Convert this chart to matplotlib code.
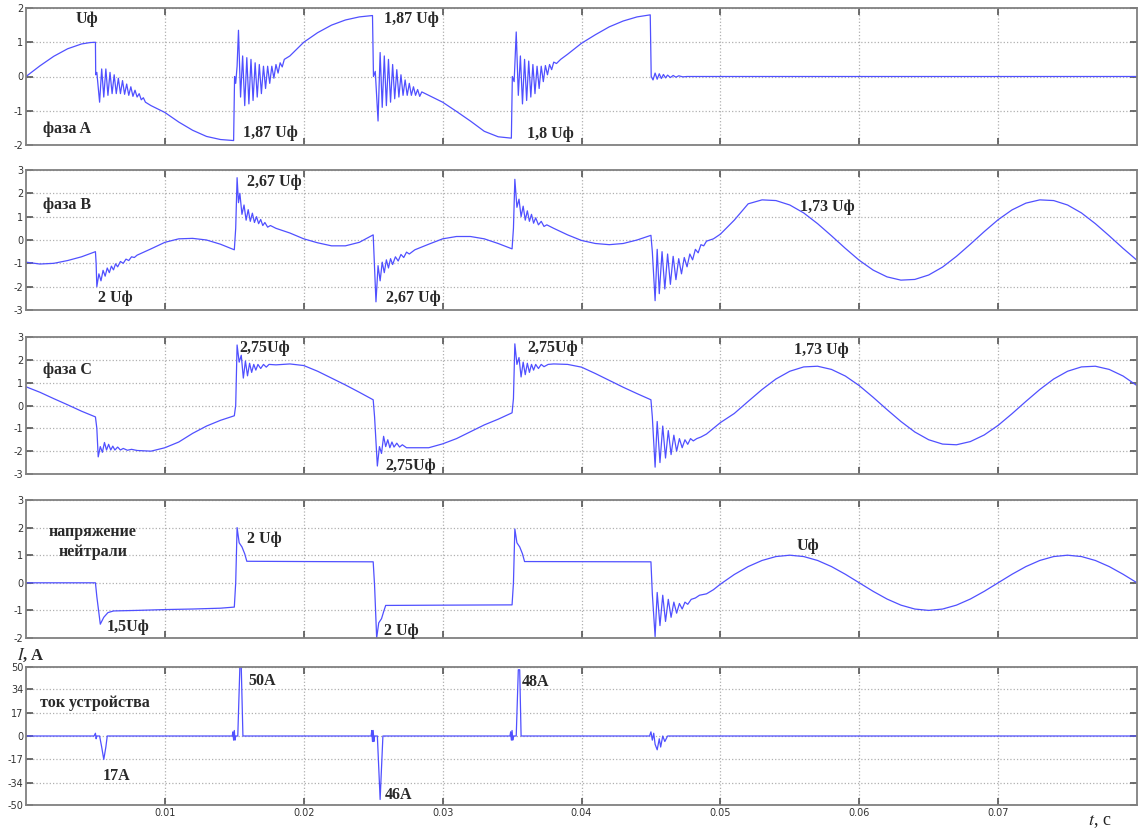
import matplotlib
matplotlib.use("Agg")
import matplotlib.pyplot as plt

plt.rcParams['axes.unicode_minus'] = False
plt.rcParams['mathtext.fontset'] = 'stix'

# time in ms, value in per-unit of phase voltage
phase_a = [
    (0, 0), (1, 0.31), (2, 0.59), (3, 0.81), (4, 0.95), (4.6, 0.99), (5.0, 1.0),
    (5.02, 0.05), (5.1, 0.12), (5.15, -0.1), (5.3, -0.75), (5.45, 0.22), (5.6, -0.6),
    (5.75, 0.22), (5.9, -0.55), (6.05, 0.12), (6.2, -0.5), (6.35, 0.05), (6.5, -0.5),
    (6.65, -0.05), (6.8, -0.5), (6.95, -0.12), (7.1, -0.52), (7.25, -0.22), (7.4, -0.55),
    (7.55, -0.3), (7.7, -0.58), (7.85, -0.4), (8.0, -0.6), (8.15, -0.5), (8.3, -0.68),
    (8.45, -0.62), (8.6, -0.75), (9, -0.85), (10, -1.05), (11, -1.33), (12, -1.57),
    (13, -1.75), (14, -1.84), (14.95, -1.87),
    (15.02, 0.0), (15.1, -0.2), (15.2, 0.3), (15.3, 1.35), (15.45, -0.6), (15.6, 0.6),
    (15.75, -0.85), (15.9, 0.55), (16.05, -0.8), (16.2, 0.5), (16.35, -0.7), (16.5, 0.4),
    (16.65, -0.6), (16.8, 0.35), (16.95, -0.5), (17.1, 0.3), (17.25, -0.35), (17.4, 0.3),
    (17.55, -0.2), (17.7, 0.3), (17.85, -0.05), (18.0, 0.35), (18.15, 0.1), (18.3, 0.4),
    (18.45, 0.28), (18.6, 0.5), (19, 0.6), (20, 1.0), (21, 1.28), (22, 1.5), (23, 1.65),
    (24, 1.74), (24.95, 1.78),
    (25.02, 0.0), (25.15, 0.15), (25.35, -1.3), (25.5, 0.7), (25.65, -0.9), (25.8, 0.6),
    (25.95, -0.85), (26.1, 0.5), (26.25, -0.75), (26.4, 0.35), (26.55, -0.65), (26.7, 0.2),
    (26.85, -0.6), (27.0, 0.05), (27.15, -0.55), (27.3, -0.1), (27.45, -0.55), (27.6, -0.2),
    (27.75, -0.55), (27.9, -0.3), (28.05, -0.55), (28.2, -0.38), (28.35, -0.58), (28.5, -0.45),
    (29, -0.55), (30, -0.75), (31, -1.02), (32, -1.3), (33, -1.6), (34, -1.76), (34.95, -1.8),
    (35.02, 0.0), (35.15, -0.15), (35.3, 1.3), (35.45, -0.55), (35.6, 0.6), (35.75, -0.8),
    (35.9, 0.5), (36.05, -0.7), (36.2, 0.45), (36.35, -0.6), (36.5, 0.35), (36.65, -0.5),
    (36.8, 0.3), (36.95, -0.35), (37.1, 0.3), (37.25, -0.15), (37.4, 0.32), (37.55, 0.05),
    (37.7, 0.35), (37.85, 0.2), (38.0, 0.42), (38.2, 0.38), (38.5, 0.5), (39, 0.65),
    (40, 0.97), (41, 1.22), (42, 1.45), (43, 1.62), (44, 1.74), (44.95, 1.8),
    (45.02, 0.0), (45.15, -0.1), (45.3, 0.1), (45.45, -0.08), (45.6, 0.08), (45.75, -0.06),
    (45.9, 0.06), (46.05, -0.04), (46.2, 0.04), (46.4, -0.03), (46.6, 0.03), (46.8, -0.02),
    (47.0, 0.02), (47.3, -0.01), (47.6, 0.0), (80, 0.0),
]

phase_b = [
    (0, -0.95), (1, -1.03), (2, -1.0), (3, -0.88), (4, -0.72), (5.0, -0.5),
    (5.05, -1.0), (5.1, -2.0), (5.25, -1.45), (5.4, -1.75), (5.55, -1.3), (5.7, -1.55),
    (5.85, -1.2), (6.0, -1.4), (6.15, -1.12), (6.3, -1.28), (6.45, -1.02), (6.6, -1.15),
    (6.8, -0.92), (7.0, -1.0), (7.2, -0.82), (7.4, -0.88), (7.6, -0.72), (7.8, -0.75),
    (8.0, -0.65), (9, -0.38), (10, -0.1), (11, 0.05), (12, 0.07), (13, 0.0), (14, -0.18),
    (15.0, -0.42),
    (15.1, 0.5), (15.2, 2.67), (15.3, 1.6), (15.4, 2.0), (15.55, 1.1), (15.7, 1.5),
    (15.85, 0.85), (16.0, 1.3), (16.15, 0.8), (16.3, 1.15), (16.45, 0.75), (16.6, 1.0),
    (16.75, 0.7), (16.9, 0.88), (17.05, 0.62), (17.2, 0.75), (17.4, 0.55), (17.6, 0.62),
    (18, 0.5), (19, 0.3), (20, 0.05), (21, -0.12), (22, -0.25), (23, -0.25), (24, -0.1),
    (25.0, 0.22),
    (25.05, -0.5), (25.2, -2.65), (25.35, -1.1), (25.5, -1.75), (25.65, -0.95), (25.8, -1.4),
    (25.95, -0.85), (26.1, -1.2), (26.25, -0.8), (26.4, -1.05), (26.6, -0.72), (26.8, -0.9),
    (27.0, -0.62), (27.2, -0.75), (27.4, -0.52), (27.6, -0.6), (28, -0.42), (29, -0.18),
    (30, 0.05), (31, 0.15), (32, 0.15), (33, 0.05), (34, -0.15), (35.0, -0.38),
    (35.1, 0.5), (35.2, 2.6), (35.35, 1.4), (35.5, 1.75), (35.65, 1.0), (35.8, 1.45),
    (35.95, 0.85), (36.1, 1.25), (36.25, 0.8), (36.4, 1.1), (36.55, 0.72), (36.7, 0.95),
    (36.9, 0.65), (37.1, 0.8), (37.3, 0.58), (37.5, 0.65), (38, 0.5), (39, 0.22),
    (40, -0.02), (41, -0.15), (42, -0.2), (43, -0.15), (44, 0.0), (45.0, 0.2),
    (45.1, -0.5), (45.3, -2.6), (45.45, -0.4), (45.6, -2.3), (45.8, -0.5), (46.0, -2.1),
    (46.2, -0.6), (46.4, -1.9), (46.6, -0.7), (46.8, -1.7), (47.0, -0.8), (47.2, -1.45),
    (47.4, -0.75), (47.6, -1.15), (47.8, -0.6), (48.0, -0.85), (48.2, -0.4), (48.4, -0.55),
    (48.6, -0.2), (48.8, -0.25), (49.0, -0.05), (49.5, 0.05), (50, 0.25), (51, 0.85),
    (52, 1.55), (53, 1.72), (54, 1.69), (55, 1.50), (56, 1.16), (57, 0.70), (58, 0.18),
    (59, -0.36), (60, -0.87), (61, -1.29), (62, -1.58), (63, -1.72), (64, -1.69),
    (65, -1.50), (66, -1.16), (67, -0.70), (68, -0.18), (69, 0.36), (70, 0.87), (71, 1.29),
    (72, 1.58), (73, 1.72), (74, 1.69), (75, 1.50), (76, 1.16), (77, 0.70), (78, 0.18),
    (79, -0.36), (80, -0.87),
]

phase_c = [
    (0, 0.82), (1, 0.58), (2, 0.3), (3, 0.03), (4, -0.25), (5.0, -0.5),
    (5.1, -1.0), (5.2, -2.25), (5.35, -1.8), (5.5, -2.05), (5.65, -1.62), (5.8, -1.95),
    (5.95, -1.7), (6.1, -1.95), (6.25, -1.78), (6.4, -1.95), (6.6, -1.82), (6.8, -1.95),
    (7.0, -1.88), (7.3, -1.96), (7.6, -1.92), (8, -1.97), (9, -2.0), (10, -1.85),
    (11, -1.6), (12, -1.22), (13, -0.9), (14, -0.65), (15.0, -0.45),
    (15.1, 0.0), (15.2, 2.65), (15.35, 1.9), (15.5, 2.2), (15.65, 1.2), (15.8, 1.95),
    (15.95, 1.3), (16.1, 1.85), (16.25, 1.45), (16.4, 1.8), (16.55, 1.55), (16.7, 1.8),
    (16.9, 1.62), (17.1, 1.8), (17.3, 1.68), (17.5, 1.8), (18, 1.78), (19, 1.82),
    (20, 1.75), (21, 1.5), (22, 1.2), (23, 0.9), (24, 0.58), (25.0, 0.25),
    (25.1, -0.5), (25.3, -2.65), (25.45, -1.8), (25.6, -2.1), (25.75, -1.35), (25.9, -1.8),
    (26.05, -1.5), (26.2, -1.85), (26.35, -1.6), (26.5, -1.82), (26.7, -1.65), (26.9, -1.82),
    (27.1, -1.72), (27.4, -1.85), (28, -1.85), (29, -1.85), (30, -1.68), (31, -1.45),
    (32, -1.15), (33, -0.85), (34, -0.6), (35.0, -0.32),
    (35.1, 0.3), (35.2, 2.7), (35.35, 1.8), (35.5, 2.1), (35.65, 1.25), (35.8, 1.9),
    (35.95, 1.35), (36.1, 1.85), (36.25, 1.45), (36.4, 1.8), (36.55, 1.55), (36.7, 1.8),
    (36.9, 1.62), (37.1, 1.8), (37.3, 1.7), (37.6, 1.8), (38, 1.82), (39, 1.8),
    (40, 1.68), (41, 1.4), (42, 1.1), (43, 0.8), (44, 0.52), (45.0, 0.25),
    (45.1, -0.5), (45.3, -2.7), (45.45, -0.7), (45.65, -2.5), (45.85, -0.9), (46.05, -2.3),
    (46.25, -1.1), (46.45, -2.15), (46.65, -1.3), (46.85, -2.0), (47.05, -1.45),
    (47.25, -1.85), (47.45, -1.5), (47.65, -1.7), (47.85, -1.45), (48.05, -1.55),
    (48.3, -1.45), (48.6, -1.38), (49, -1.25), (50, -0.75), (51, -0.35), (52, 0.18),
    (53, 0.70), (54, 1.16), (55, 1.50), (56, 1.69), (57, 1.72), (58, 1.58), (59, 1.29),
    (60, 0.87), (61, 0.36), (62, -0.18), (63, -0.70), (64, -1.16), (65, -1.50),
    (66, -1.69), (67, -1.72), (68, -1.58), (69, -1.29), (70, -0.87), (71, -0.36),
    (72, 0.18), (73, 0.70), (74, 1.16), (75, 1.50), (76, 1.69), (77, 1.72), (78, 1.58),
    (79, 1.29), (80, 0.87),
]

neutral = [
    (0, 0), (5.0, 0), (5.1, -0.5), (5.35, -1.5), (5.6, -1.25), (5.9, -1.08), (6.3, -1.02),
    (8, -1.0), (10, -0.97), (12, -0.95), (14, -0.92), (15.0, -0.88),
    (15.1, 0.0), (15.2, 2.0), (15.35, 1.45), (15.55, 1.3), (15.75, 1.05), (15.9, 0.78),
    (20, 0.77), (25.0, 0.76),
    (25.1, -0.1), (25.25, -2.0), (25.4, -1.45), (25.6, -1.3), (25.75, -1.05), (25.9, -0.82),
    (30, -0.81), (35.0, -0.8),
    (35.1, 0.0), (35.2, 1.95), (35.35, 1.45), (35.55, 1.3), (35.75, 1.05), (35.9, 0.77),
    (45.0, 0.76),
    (45.1, -0.4), (45.3, -1.95), (45.45, -0.35), (45.65, -1.55), (45.85, -0.45),
    (46.05, -1.4), (46.25, -0.6), (46.45, -1.25), (46.65, -0.7), (46.85, -1.1),
    (47.05, -0.75), (47.25, -0.95), (47.45, -0.7), (47.65, -0.78), (47.9, -0.6),
    (48.2, -0.55), (48.5, -0.45), (49, -0.4), (49.5, -0.25), (50, -0.05), (51, 0.3),
    (52, 0.588), (53, 0.809), (54, 0.951), (55, 1.0), (56, 0.951), (57, 0.809),
    (58, 0.588), (59, 0.309), (60, 0.0), (61, -0.309), (62, -0.588), (63, -0.809),
    (64, -0.951), (65, -1.0), (66, -0.951), (67, -0.809), (68, -0.588), (69, -0.309),
    (70, 0.0), (71, 0.309), (72, 0.588), (73, 0.809), (74, 0.951), (75, 1.0),
    (76, 0.951), (77, 0.809), (78, 0.588), (79, 0.309), (80, 0.0),
]

# device current, A
current = [
    (0, 0), (4.9, 0), (5.0, 2), (5.05, -2), (5.1, 0), (5.3, 0), (5.45, -8), (5.6, -17),
    (5.75, -8), (5.85, 0),
    (14.85, 0), (14.9, 3), (14.95, -3), (15.0, 4), (15.05, -3), (15.1, 0), (15.25, 0),
    (15.4, 50), (15.5, 50), (15.62, 0),
    (24.85, 0), (24.9, 4), (24.95, -4), (25.0, 4), (25.05, -4), (25.1, 0), (25.3, 0),
    (25.5, -46), (25.7, 0),
    (34.85, 0), (34.9, 3), (34.95, -3), (35.0, 4), (35.05, -3), (35.1, 0), (35.3, 0),
    (35.45, 48), (35.55, 48), (35.65, 0),
    (44.9, 0), (45.0, 3), (45.1, -3), (45.2, 2), (45.3, -6), (45.45, -10), (45.6, -2),
    (45.7, -8), (45.85, 0), (46.0, -4), (46.2, 0), (80, 0),
]

panels = [phase_a, phase_b, phase_c, neutral, current]
y_ticks = [
    [-2, -1, 0, 1, 2],
    [-3, -2, -1, 0, 1, 2, 3],
    [-3, -2, -1, 0, 1, 2, 3],
    [-2, -1, 0, 1, 2, 3],
    [-50, -34, -17, 0, 17, 34, 50],
]
x_ticks = [0.01, 0.02, 0.03, 0.04, 0.05, 0.06, 0.07]

# text labels: (panel, t [s], y, text, ha)
labels = [
    (0, 0.0036, 1.68, "Uф", "left"),
    (0, 0.0258, 1.68, "1,87 Uф", "left"),
    (0, 0.0012, -1.54, "фаза A", "left"),
    (0, 0.0156, -1.65, "1,87 Uф", "left"),
    (0, 0.0361, -1.68, "1,8 Uф", "left"),
    (1, 0.0159, 2.49, "2,67 Uф", "left"),
    (1, 0.0012, 1.5, "фаза B", "left"),
    (1, 0.0052, -2.49, "2 Uф", "left"),
    (1, 0.0259, -2.49, "2,67 Uф", "left"),
    (1, 0.0557, 1.42, "1,73 Uф", "left"),
    (2, 0.0154, 2.54, "2,75Uф", "left"),
    (2, 0.0012, 1.54, "фаза C", "left"),
    (2, 0.0259, -2.63, "2,75Uф", "left"),
    (2, 0.0361, 2.54, "2,75Uф", "left"),
    (2, 0.0553, 2.41, "1,73 Uф", "left"),
    (3, 0.0048, 1.84, "напряжение", "center"),
    (3, 0.0048, 1.12, "нейтрали", "center"),
    (3, 0.0159, 1.59, "2 Uф", "left"),
    (3, 0.0058, -1.59, "1,5Uф", "left"),
    (3, 0.0258, -1.73, "2 Uф", "left"),
    (3, 0.0555, 1.34, "Uф", "left"),
    (4, 0.0010, 24, "ток устройства", "left"),
    (4, 0.0160, 40, "50A", "left"),
    (4, 0.0055, -29, "17A", "left"),
    (4, 0.0258, -43, "46A", "left"),
    (4, 0.0357, 39, "48A", "left"),
]

W, H = 1141, 835
boxes = [(8, 145), (170, 310), (337, 474), (500, 638), (667, 805)]
left_px, right_px = 26, 1137

fig = plt.figure(figsize=(W / 100, H / 100), dpi=100)
axes = []
for i, (top, bot) in enumerate(boxes):
    ax = fig.add_axes([left_px / W, 1 - bot / H, (right_px - left_px) / W, (bot - top) / H])
    t = [p[0] / 1000 for p in panels[i]]
    v = [p[1] for p in panels[i]]
    ax.plot(t, v, color="#5050ff", lw=0.9)
    ax.set_xlim(0, 0.08)
    ax.set_ylim(y_ticks[i][0], y_ticks[i][-1])
    ax.set_yticks(y_ticks[i])
    ax.set_xticks(x_ticks)
    ax.grid(True, ls=":", color="#b0b0b0", lw=0.9)
    ax.tick_params(direction="in", length=5, width=1.2, color="#555555",
                   top=True, right=True, labelsize=7, labelcolor="#333333", pad=2)
    for s in ax.spines.values():
        s.set_color("#808080")
        s.set_linewidth(1.3)
    if i < 4:
        ax.tick_params(labelbottom=False)
    axes.append(ax)

for pi, tx, ty, txt, ha in labels:
    axes[pi].text(tx, ty, txt, ha=ha, va="center", family="Liberation Serif",
                  fontsize=11.5, fontweight="bold", color="#2a2a2a")

fig.text(17 / W, 1 - 655 / H, r"$I$, A", family="Liberation Serif", fontsize=12,
         fontweight="bold", va="center", ha="left", color="#2a2a2a")
fig.text(1088 / W, 1 - 822 / H, r"$t$, с", family="Liberation Serif", fontsize=13,
         va="center", ha="left", color="#222222")

fig.savefig("out.png", dpi=100, facecolor="white")
